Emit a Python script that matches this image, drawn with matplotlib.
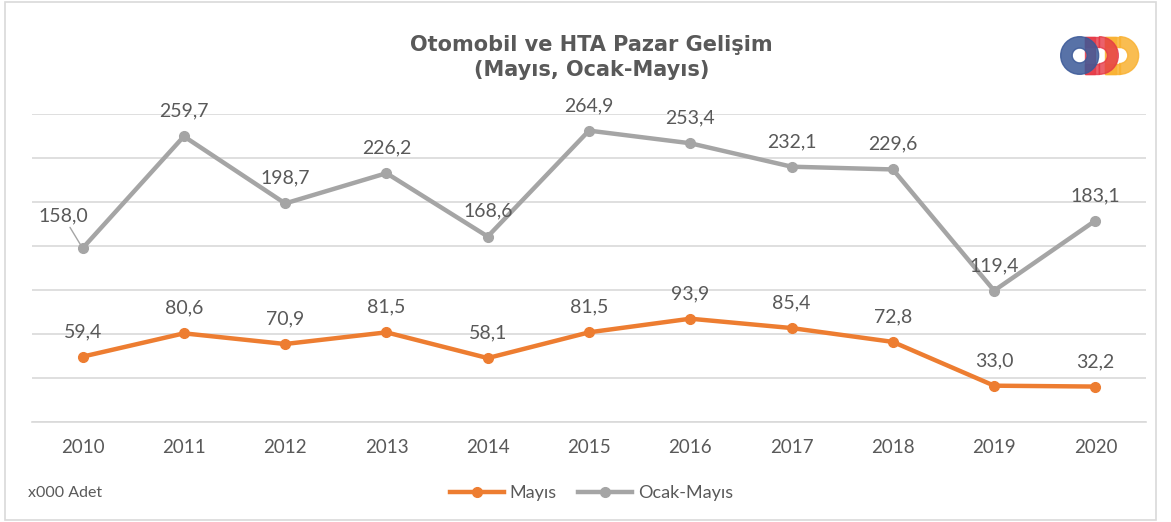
import matplotlib.pyplot as plt
from matplotlib.patches import Wedge, Rectangle

years = [2010, 2011, 2012, 2013, 2014, 2015, 2016, 2017, 2018, 2019, 2020]
mayis = [59.4, 80.6, 70.9, 81.5, 58.1, 81.5, 93.9, 85.4, 72.8, 33.0, 32.2]
ocak_mayis = [158.0, 259.7, 198.7, 226.2, 168.6, 264.9, 253.4, 232.1, 229.6, 119.4, 183.1]

plt.rcParams['font.family'] = ['Lato', 'DejaVu Sans']
txt = '#595959'
orange = '#ED7D31'
gray = '#A5A5A5'

fig = plt.figure(figsize=(11.71, 5.22), dpi=100)
fig.patches.append(Rectangle((0.004, 0.004), 0.983, 0.992, transform=fig.transFigure,
                             fill=False, edgecolor='#D9D9D9', linewidth=1.2))

ax = fig.add_axes([0.0273, 0.1916, 0.9514, 0.59])
ax.plot(years, ocak_mayis, color=gray, lw=3.2, marker='o', ms=7, label='Ocak-Mayıs', zorder=3)
ax.plot(years, mayis, color=orange, lw=3.2, marker='o', ms=7, label='Mayıs', zorder=3)

ax.set_xlim(2009.5, 2020.5)
ax.set_ylim(0, 280)
ax.set_yticks(range(0, 281, 40))
ax.yaxis.grid(True, color='#D9D9D9', lw=1.2)
ax.set_axisbelow(True)
ax.tick_params(axis='y', left=False, labelleft=False)
ax.tick_params(axis='x', length=0, labelsize=13.5, labelcolor=txt, pad=12)
ax.set_xticks(years)
for s in ['top', 'right', 'left']:
    ax.spines[s].set_visible(False)
ax.spines['bottom'].set_color('#D9D9D9')
ax.spines['bottom'].set_linewidth(1.2)

def lab(v):
    return f'{v:.1f}'.replace('.', ',')

for x, v in zip(years, mayis):
    ax.annotate(lab(v), (x, v), xytext=(0, 12), textcoords='offset points',
                ha='center', va='bottom', fontsize=14, color=txt)
for x, v in zip(years, ocak_mayis):
    if x == 2010:
        ax.annotate(lab(v), (x, v), xytext=(-14, 17), textcoords='offset points',
                    ha='center', va='bottom', fontsize=14, color=txt,
                    arrowprops=dict(arrowstyle='-', color='#A5A5A5', lw=1,
                                    shrinkA=0, shrinkB=3))
    else:
        ax.annotate(lab(v), (x, v), xytext=(0, 12), textcoords='offset points',
                    ha='center', va='bottom', fontsize=14, color=txt)

fig.text(0.505, 0.89, 'Otomobil ve HTA Pazar Gelişim\n(Mayıs, Ocak-Mayıs)', ha='center',
         va='center', fontsize=15, fontweight='bold', color=txt, linespacing=1.3,
         family='DejaVu Sans')

fig.text(0.024, 0.055, 'x000 Adet', fontsize=11.5, color=txt, va='center')

h, l = ax.get_legend_handles_labels()
fig.legend(h[::-1], l[::-1], loc='center', bbox_to_anchor=(0.505, 0.055), ncol=2, frameon=False,
           fontsize=13, labelcolor=txt, handlelength=3, columnspacing=1.2, handletextpad=0.3)

# logo
lax = fig.add_axes([1060 / 1171, 1 - 77 / 522, 80 / 1171, 43 / 522])
lax.set_xlim(0, 5.9)
lax.set_ylim(0, 3.2)
lax.axis('off')
c1, c2, c3 = '#3B5998', '#E63946', '#F9B233'
for cx, col, a in [(4.4, c3, 0.85), (2.9, c2, 0.8)]:
    lax.add_patch(Wedge((cx, 1.6), 1.4, -90, 90, width=0.8, color=col, alpha=a))
    lax.add_patch(Rectangle((cx - 1.05, 0.2), 1.05, 0.8, color=col, alpha=a))
    lax.add_patch(Rectangle((cx - 1.05, 2.2), 1.05, 0.8, color=col, alpha=a))
    lax.add_patch(Rectangle((cx - 1.05, 0.2), 0.75, 2.8, color=col, alpha=a))
lax.add_patch(Wedge((1.45, 1.6), 1.4, 0, 360, width=0.85, color=c1, alpha=0.85))

fig.savefig('out.png', dpi=100)
